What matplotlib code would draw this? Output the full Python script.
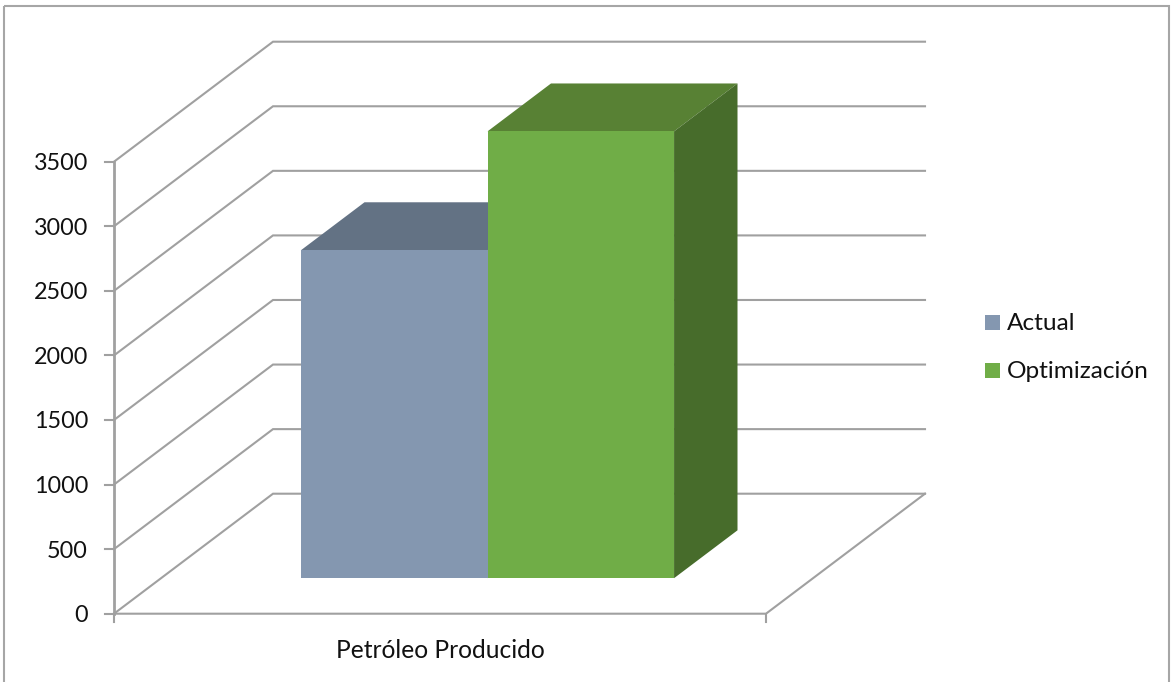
import matplotlib
matplotlib.use("Agg")
import matplotlib.pyplot as plt
from matplotlib.patches import Polygon, Rectangle

plt.rcParams['font.family'] = ['Lato', 'DejaVu Sans']

category = "Petróleo Producido"
series_names = ["Actual", "Optimización"]
series_values = [2540, 3460]
axis_ticks = [0, 500, 1000, 1500, 2000, 2500, 3000, 3500]

front_colors = ["#8497B0", "#70AD47"]
top_colors = ["#637284", "#588134"]
side_colors = ["#56657A", "#476C2B"]
GRID = "#A0A0A0"
TEXT = "#111111"

# Oblique projection: x in [0, 1] along the floor, depth in [0, 1] into the box.
X0, X1 = 114.0, 766.0
Y0 = 613.7
PX_PER_UNIT = 452.0 / 3500.0
DX, DY = 159.0, -120.0


def project(x, value, depth):
    return (X0 + x * (X1 - X0) + depth * DX,
            Y0 - value * PX_PER_UNIT + depth * DY)


fig = plt.figure(figsize=(11.76, 6.82), dpi=100, facecolor="white")
ax = fig.add_axes([0, 0, 1, 1])
ax.set_xlim(0, 1176)
ax.set_ylim(682, 0)
ax.axis("off")

# Chart frame
ax.add_patch(Rectangle((4, 6), 1165, 690, fill=False, ec="#A6A6A6", lw=1.5, clip_on=False))

# Back wall gridlines, side wall gridlines and left axis ticks
for t in axis_ticks:
    pts = [project(0, t, 0), project(0, t, 1), project(1, t, 1)]
    ax.plot(*zip(*pts), color=GRID, lw=1.5, solid_joinstyle="miter", zorder=1)
    fx, fy = project(0, t, 0)
    ax.plot([fx - 9, fx], [fy, fy], color=GRID, lw=1.5, zorder=1)
    ax.text(fx - 26, fy + 2, str(t), ha="right", va="center", fontsize=16.8, color=TEXT)

# Vertical axis, floor edges and the category tick marks
ax.plot(*zip(project(0, 0, 0), project(0, axis_ticks[-1], 0)), color=GRID, lw=2, zorder=1)
ax.plot(*zip(project(0, 0, 0), project(1, 0, 0), project(1, 0, 1)), color=GRID, lw=1.5,
        solid_joinstyle="miter", zorder=1)
for x in (0, 1):
    fx, fy = project(x, 0, 0)
    ax.plot([fx, fx], [fy, fy + 8], color=GRID, lw=1.5, zorder=1)

# Columns: side-by-side boxes occupying the middle of the floor
BAR_LEFT = (301.0 - 47.0 - X0) / (X1 - X0)
BAR_WIDTH = 186.5 / (X1 - X0)
D_FRONT, D_BACK = 0.296, 0.695

for i, value in enumerate(series_values):
    xa = BAR_LEFT + i * BAR_WIDTH
    xb = xa + BAR_WIDTH
    z = 3 + i
    top = [project(xa, value, D_FRONT), project(xb, value, D_FRONT),
           project(xb, value, D_BACK), project(xa, value, D_BACK)]
    side = [project(xb, 0, D_FRONT), project(xb, value, D_FRONT),
            project(xb, value, D_BACK), project(xb, 0, D_BACK)]
    front = [project(xa, 0, D_FRONT), project(xb, 0, D_FRONT),
             project(xb, value, D_FRONT), project(xa, value, D_FRONT)]
    ax.add_patch(Polygon(top, closed=True, fc=top_colors[i], ec="none", zorder=z))
    ax.add_patch(Polygon(side, closed=True, fc=side_colors[i], ec="none", zorder=z))
    ax.add_patch(Polygon(front, closed=True, fc=front_colors[i], ec="none", zorder=z))

# Category label
ax.text(440, 650, category, ha="center", va="center", fontsize=17.7, color=TEXT)

# Legend
for name, color, y in zip(series_names, front_colors, (322, 370)):
    ax.add_patch(Rectangle((985, y - 7.5), 15, 15, fc=color, ec="none"))
    ax.text(1007, y + 1, name, ha="left", va="center", fontsize=17.6, color=TEXT)

fig.savefig("out.png", dpi=100)
